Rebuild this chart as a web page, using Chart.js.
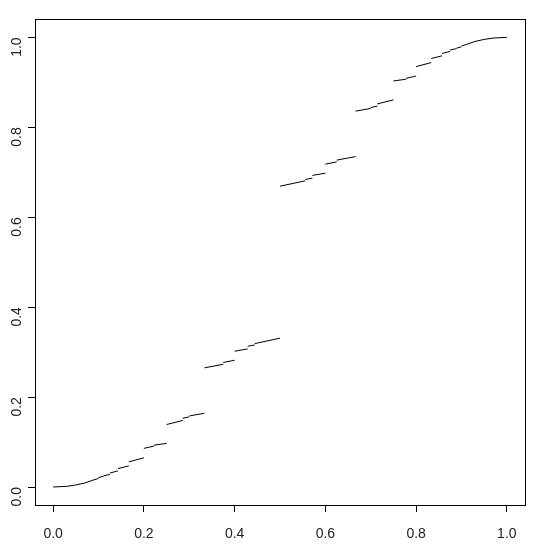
<!DOCTYPE html>
<html>
<head>
<meta charset="utf-8">
<script src="https://cdn.jsdelivr.net/npm/chart.js@4/dist/chart.umd.min.js"></script>
<style>
html,body{margin:0;padding:0;background:#fff;}
#wrap{width:540px;height:555px;position:relative;}
</style>
</head>
<body>
<div id="wrap"><canvas id="c" width="540" height="555"></canvas></div>
<script>
// Tick values
const xTicks = [0, 0.2, 0.4, 0.6, 0.8, 1.0];
const yTicks = [0, 0.2, 0.4, 0.6, 0.8, 1.0];

// Curve values; null marks a jump (gap) between pieces
const curveX = [
  0, 0.03, 0.05, 0.07, 0.09, 0.1, null,
  0.1, 0.1111, null,
  0.1111, 0.125, null,
  0.125, 0.1429, null,
  0.1429, 0.1667, null,
  0.1667, 0.2, null,
  0.2, 0.2222, null,
  0.2222, 0.25, null,
  0.25, 0.2857, null,
  0.2857, 0.3, null,
  0.3, 0.3333, null,
  0.3333, 0.375, null,
  0.375, 0.4, null,
  0.4, 0.4286, null,
  0.4286, 0.4444, null,
  0.4444, 0.5, null,
  0.5, 0.5556, null,
  0.5556, 0.5714, null,
  0.5714, 0.6, null,
  0.6, 0.625, null,
  0.625, 0.6667, null,
  0.6667, 0.7, null,
  0.7, 0.7143, null,
  0.7143, 0.75, null,
  0.75, 0.7778, null,
  0.7778, 0.8, null,
  0.8, 0.8333, null,
  0.8333, 0.8571, null,
  0.8571, 0.875, null,
  0.875, 0.8889, null,
  0.8889, 0.9, null,
  0.9, 0.91, 0.93, 0.95, 0.97, 1.0
];
const curveY = [
  0, 0.0015, 0.0045, 0.009, 0.016, 0.019, null,
  0.021, 0.024, null,
  0.025, 0.028, null,
  0.031, 0.036, null,
  0.041, 0.047, null,
  0.056, 0.065, null,
  0.086, 0.091, null,
  0.093, 0.097, null,
  0.139, 0.148, null,
  0.153, 0.156, null,
  0.158, 0.164, null,
  0.265, 0.273, null,
  0.277, 0.282, null,
  0.302, 0.307, null,
  0.313, 0.316, null,
  0.319, 0.331, null,
  0.669, 0.681, null,
  0.684, 0.687, null,
  0.693, 0.698, null,
  0.718, 0.723, null,
  0.727, 0.735, null,
  0.836, 0.842, null,
  0.844, 0.847, null,
  0.852, 0.861, null,
  0.903, 0.907, null,
  0.909, 0.914, null,
  0.935, 0.944, null,
  0.953, 0.959, null,
  0.964, 0.969, null,
  0.972, 0.975, null,
  0.976, 0.979, null,
  0.981, 0.984, 0.991, 0.9955, 0.9985, 1.0
];

const points = curveX.map((x, i) => (x === null ? {x: NaN, y: null} : {x: x, y: curveY[i]}));

const frame = {
  id: 'frame',
  afterDraw(chart) {
    const a = chart.chartArea, ctx = chart.ctx;
    ctx.save();
    ctx.strokeStyle = '#000';
    ctx.lineWidth = 1;
    ctx.strokeRect(Math.round(a.left) + 0.5, Math.round(a.top) + 0.5,
                   Math.round(a.right - a.left), Math.round(a.bottom - a.top));
    ctx.restore();
  }
};

const font = {family: '"Liberation Sans", Arial, sans-serif', size: 14};

new Chart(document.getElementById('c'), {
  type: 'scatter',
  data: {
    datasets: [{
      data: points,
      showLine: true,
      spanGaps: false,
      pointRadius: 0,
      borderColor: '#000',
      borderWidth: 1,
      tension: 0
    }]
  },
  options: {
    responsive: false,
    animation: false,
    plugins: {legend: {display: false}, tooltip: {enabled: false}},
    layout: {padding: {left: 0, right: 15, top: 18, bottom: 0}},
    scales: {
      x: {
        type: 'linear',
        min: -0.04, max: 1.04,
        afterBuildTicks(s) { s.ticks = xTicks.map(v => ({value: v})); },
        afterFit(s) { s.height = 50; },
        border: {display: false},
        grid: {drawOnChartArea: false, drawTicks: true, tickLength: 7, color: '#000', tickColor: '#000'},
        ticks: {
          color: '#222', font: font, padding: 14, maxRotation: 0, minRotation: 0,
          callback: v => v.toFixed(1)
        }
      },
      y: {
        type: 'linear',
        min: -0.04, max: 1.04,
        afterBuildTicks(s) { s.ticks = yTicks.map(v => ({value: v})); },
        afterFit(s) { s.width = 35; },
        border: {display: false},
        grid: {drawOnChartArea: false, drawTicks: true, tickLength: 7, color: '#000', tickColor: '#000'},
        ticks: {
          color: '#222', font: font, padding: 11, minRotation: 90, maxRotation: 90,
          callback: v => v.toFixed(1)
        }
      }
    }
  },
  plugins: [frame]
});
</script>
</body>
</html>
